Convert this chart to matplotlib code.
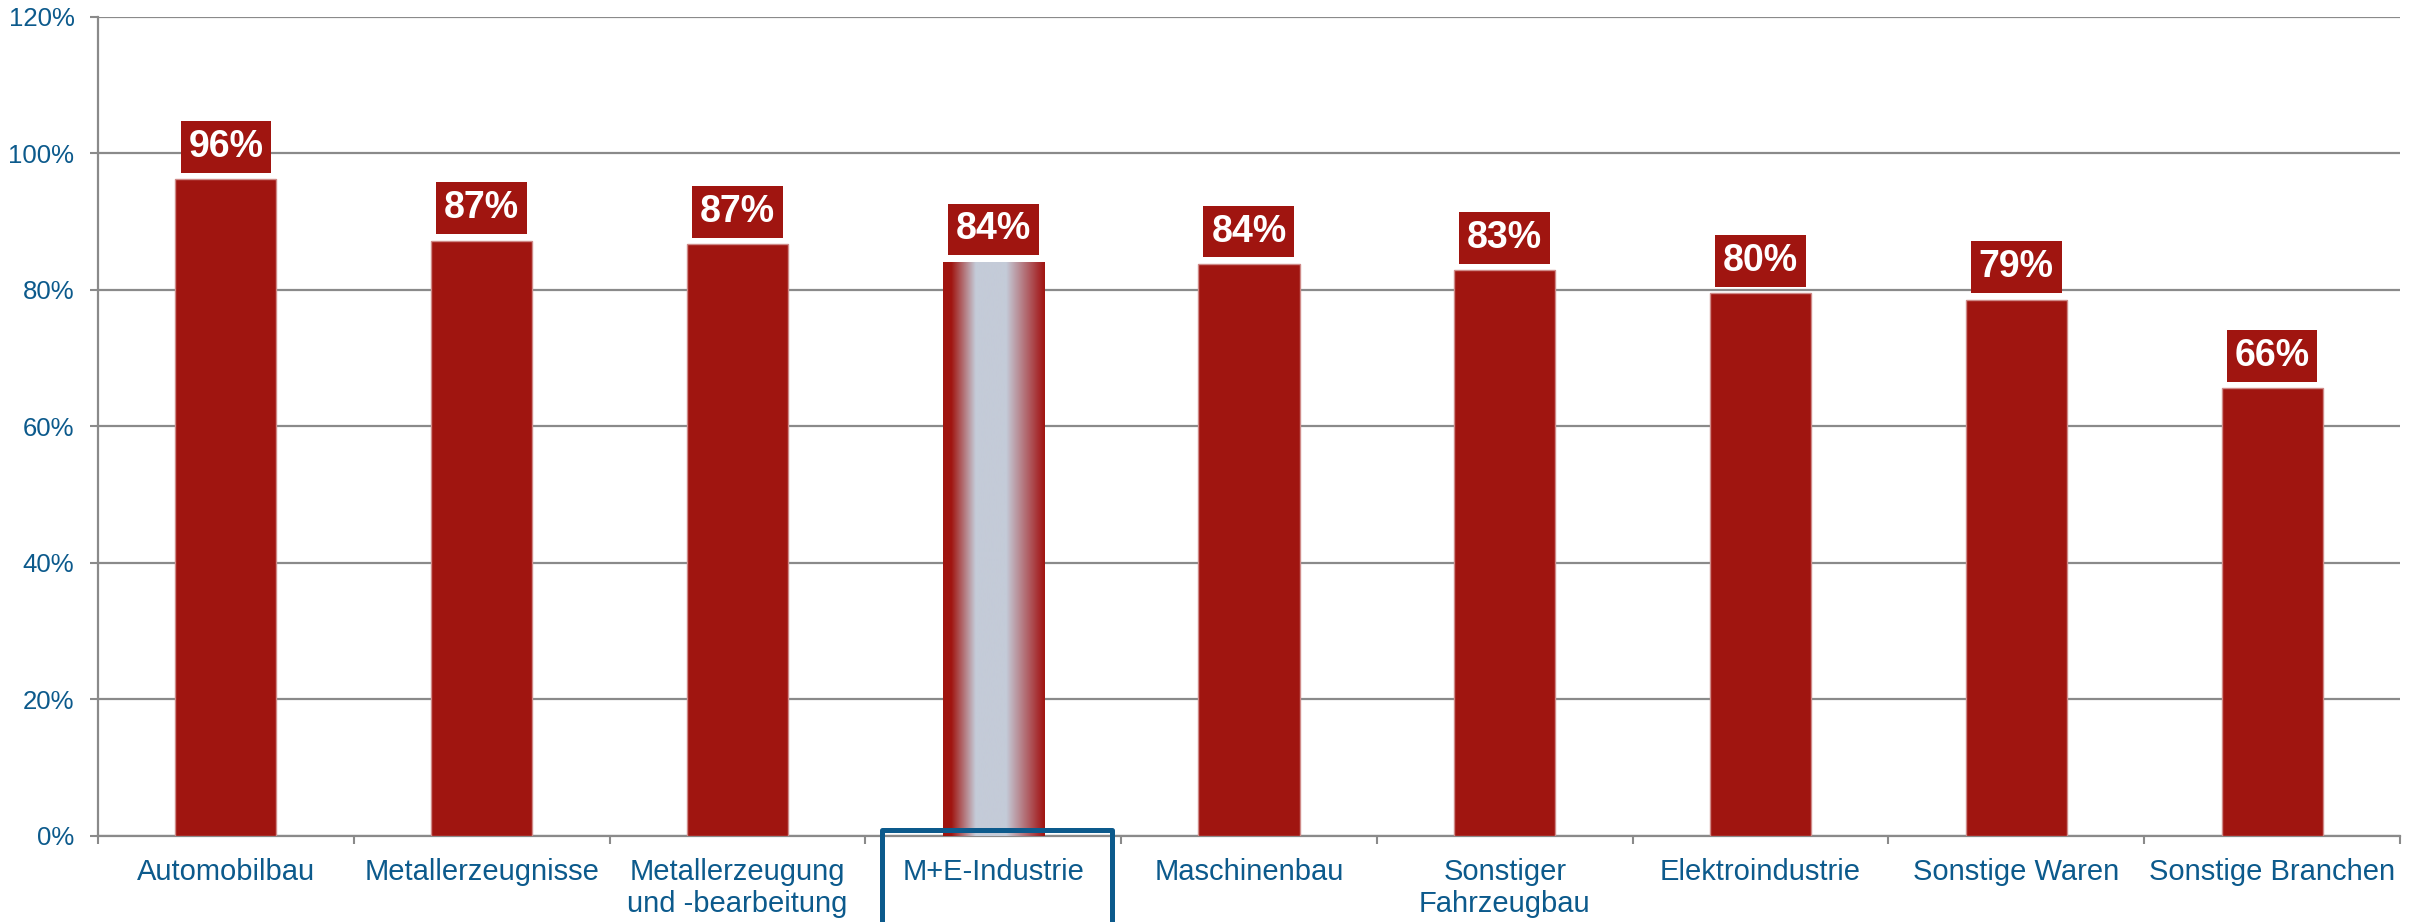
import matplotlib.pyplot as plt
from matplotlib.colors import LinearSegmentedColormap
from matplotlib.patches import Rectangle
import matplotlib.transforms as mtransforms
import numpy as np

plt.rcParams['font.family'] = ['Liberation Sans', 'DejaVu Sans']

categories = ["Automobilbau", "Metallerzeugnisse", "Metallerzeugung\nund -bearbeitung",
              "M+E-Industrie", "Maschinenbau", "Sonstiger\nFahrzeugbau",
              "Elektroindustrie", "Sonstige Waren", "Sonstige Branchen"]
values = [96.2, 87.2, 86.7, 84.1, 83.8, 82.9, 79.5, 78.6, 65.6]
labels = ["96%", "87%", "87%", "84%", "84%", "83%", "80%", "79%", "66%"]
highlight = 3

red = "#a01510"
blue = "#0c5a8c"
grey = "#8a8a8a"

fig = plt.figure(figsize=(24.21, 9.22), dpi=100)
ax = fig.add_axes([0.0405, 0.0933, 0.9508, 0.8883])

x = np.arange(len(categories))
bar_w = 0.395
bars = ax.bar(x, values, width=bar_w, color=red, edgecolor="#cf8a88",
              linewidth=1, zorder=3)

# gradient fill for the highlighted bar
b = bars[highlight]
b.set_facecolor("none")
b.set_edgecolor("none")
cmap = LinearSegmentedColormap.from_list(
    "hl", [(0, red), (0.08, red), (0.32, "#c4cbd8"), (0.62, "#c4cbd8"), (0.95, "#a6282a"), (1, red)])
grad = np.linspace(0, 1, 256).reshape(1, -1)
ax.imshow(grad, extent=[b.get_x(), b.get_x() + b.get_width(), 0, b.get_height()],
          aspect="auto", cmap=cmap, zorder=3)

for xi, v, lab in zip(x, values, labels):
    ax.annotate(lab, (xi, v), xytext=(0, 23.4), textcoords="offset points",
                ha="center", va="center", fontsize=27, fontweight="bold", color="white",
                bbox=dict(boxstyle="square,pad=0.21", fc=red, ec="none"), zorder=5)

ax.set_xlim(-0.5, len(categories) - 0.5)
ax.set_ylim(0, 120)
ax.set_yticks(np.arange(0, 121, 20))
ax.set_yticklabels([f"{t}%" for t in range(0, 121, 20)])
ax.yaxis.grid(True, color=grey, linewidth=1.6, zorder=0)
ax.set_axisbelow(True)

ax.set_xticks(x)
ax.set_xticklabels(categories, linespacing=1.2)
ax.set_xticks(np.arange(-0.5, len(categories)), minor=True)
ax.tick_params(axis="x", which="major", length=0, pad=15.5, labelsize=21, labelcolor=blue)
ax.tick_params(axis="x", which="minor", length=6, width=1.5, color=grey)
ax.tick_params(axis="y", length=6, width=1.5, color=grey, pad=11, labelsize=18.5, labelcolor=blue)

for s in ["top", "right"]:
    ax.spines[s].set_visible(False)
for s in ["left", "bottom"]:
    ax.spines[s].set_color(grey)
    ax.spines[s].set_linewidth(1.6)

# frame around highlighted category label
trans = mtransforms.blended_transform_factory(ax.transData, ax.transAxes)
ax.add_patch(Rectangle((highlight - 0.435, -0.2), 0.9, 0.207, transform=trans,
                       fill=False, ec=blue, lw=3.6, clip_on=False, zorder=6,
                       joinstyle="round"))

fig.savefig("out.png", dpi=100)
